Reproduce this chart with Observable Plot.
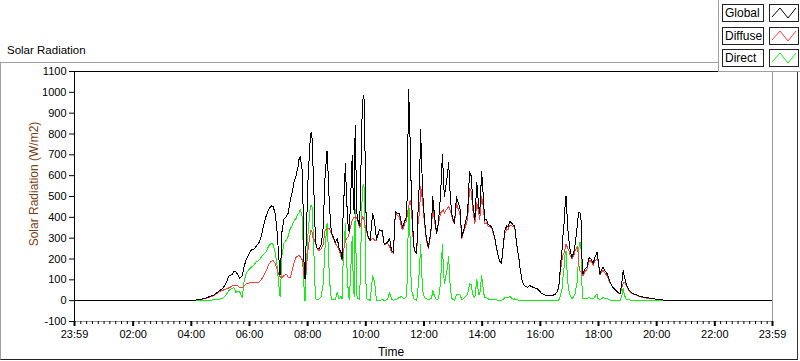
<!DOCTYPE html>
<html><head><meta charset="utf-8">
<script src="https://cdn.jsdelivr.net/npm/d3@7"></script>
<script src="https://cdn.jsdelivr.net/npm/@observablehq/plot@0.6"></script>
<style>
body{margin:0;background:#fff;font-family:"Liberation Sans",Arial,sans-serif;}
#wrap{position:relative;width:800px;height:361px;overflow:hidden;background:#fff;}
#wrap svg{position:absolute;left:0;top:0;}
.ov{position:absolute;white-space:nowrap;}
#outer{left:0;top:62px;width:796px;height:296px;border-top:1px solid #a0a0a0;border-left:1px solid #a0a0a0;border-right:1px solid #333;border-bottom:1px solid #222;}
#title{left:7px;top:44px;font-size:11.5px;color:#000;}
#ylab{left:34px;top:184px;font-size:12px;color:#7a4210;transform:translate(-50%,-50%) rotate(-90deg);}
#xlab{left:391px;top:345px;font-size:12px;color:#000;transform:translateX(-50%);}
#legend{left:718px;top:0;width:82px;height:71px;background:#fff;border-left:1px solid #a0a0a0;border-bottom:1px solid #a0a0a0;}
.lrow{position:absolute;left:3px;height:17px;}
.lname{position:absolute;left:0;top:0;border:1px solid #222;font-size:12px;line-height:16px;padding-left:2px;box-sizing:border-box;width:42px;height:18px;background:#fff;}
.lsamp{position:absolute;left:47px;top:0;width:30px;height:18px;border:1px solid #222;box-sizing:border-box;background:#fff;}
</style></head><body><div id="wrap"></div>
<script>
const times = ["00:00","04:01","04:16","04:26","04:36","04:47","04:57","05:05","05:11","05:18","05:24","05:28","05:32","05:36","05:40","05:45","05:49","05:53","05:59","06:03","06:09","06:13","06:20","06:24","06:28","06:34","06:40","06:45","06:49","06:53","06:57","07:01","07:03","07:05","07:07","07:11","07:16","07:20","07:24","07:28","07:32","07:36","07:40","07:42","07:45","07:49","07:51","07:53","07:55","07:57","08:01","08:05","08:07","08:09","08:11","08:14","08:16","08:20","08:24","08:28","08:32","08:36","08:40","08:42","08:45","08:49","08:53","08:57","09:01","09:05","09:09","09:11","09:13","09:18","09:20","09:24","09:26","09:28","09:32","09:34","09:36","09:38","09:40","09:42","09:47","09:49","09:51","09:53","09:55","09:57","09:59","10:01","10:05","10:09","10:14","10:18","10:22","10:28","10:34","10:38","10:45","10:49","10:53","10:57","11:01","11:05","11:09","11:14","11:16","11:20","11:24","11:26","11:28","11:30","11:32","11:34","11:38","11:40","11:45","11:47","11:49","11:51","11:53","11:57","12:01","12:05","12:09","12:14","12:16","12:18","12:22","12:26","12:30","12:34","12:38","12:40","12:42","12:47","12:51","12:53","12:57","13:01","13:03","13:07","13:09","13:14","13:18","13:22","13:26","13:30","13:34","13:38","13:40","13:45","13:49","13:53","13:55","13:59","14:03","14:05","14:09","14:11","14:16","14:20","14:24","14:26","14:30","14:32","14:36","14:40","14:45","14:47","14:51","14:53","14:57","15:01","15:05","15:07","15:11","15:16","15:18","15:22","15:26","15:30","15:34","15:38","15:42","15:47","15:53","15:59","16:03","16:09","16:16","16:24","16:30","16:34","16:38","16:40","16:42","16:45","16:47","16:49","16:51","16:53","16:55","16:57","16:59","17:01","17:05","17:09","17:11","17:16","17:18","17:20","17:22","17:24","17:26","17:28","17:32","17:36","17:40","17:42","17:47","17:49","17:53","17:57","17:59","18:03","18:07","18:09","18:14","18:18","18:22","18:26","18:30","18:36","18:40","18:45","18:49","18:51","18:53","18:57","19:01","19:05","19:11","19:18","19:22","19:30","19:38","19:47","19:57","20:07","20:18","20:24","23:59"];
const globalRad = [0,0,5,10,18,28,45,60,80,120,125,142,138,125,106,120,165,195,225,242,248,258,280,306,350,403,440,455,450,420,330,190,125,200,330,390,405,420,480,520,570,600,640,677,690,620,400,110,105,300,600,760,808,780,650,450,280,248,250,270,350,600,720,624,450,325,305,280,300,250,230,200,400,660,500,340,330,450,697,500,420,840,600,400,360,500,780,940,985,960,600,350,305,290,420,380,292,340,335,270,280,300,240,230,430,420,420,370,353,380,401,560,1015,909,700,500,300,242,227,387,500,580,822,532,387,300,256,330,387,500,400,324,380,500,701,600,500,580,663,550,420,380,372,500,480,450,305,340,380,420,620,595,480,387,566,450,420,620,480,387,390,372,360,353,320,305,250,227,190,179,300,339,360,353,380,372,360,363,276,200,160,100,75,68,63,72,68,62,58,45,34,28,24,25,29,40,63,120,179,250,320,372,450,500,420,339,290,250,208,230,256,353,400,426,420,387,200,130,150,160,200,208,190,179,210,232,200,130,150,160,140,130,100,80,63,50,39,34,100,145,120,82,60,45,34,28,24,18,14,12,8,5,2,0,0];
const diffuseRad = [0,0,5,9,15,25,42,50,55,62,70,73,75,72,63,62,70,80,85,87,87,87,90,100,115,140,175,190,192,180,150,125,115,110,111,120,128,110,110,145,180,208,215,218,210,195,150,110,100,150,250,320,339,330,300,290,280,245,242,250,270,339,345,348,348,320,300,276,260,242,210,193,230,290,295,310,324,350,387,395,400,403,400,390,353,360,380,403,400,380,353,340,300,288,300,290,290,339,330,268,276,260,232,227,426,410,403,350,340,370,380,420,450,470,480,450,280,240,225,350,400,420,550,480,370,290,250,320,370,450,380,320,370,420,430,440,420,440,450,440,410,375,370,470,450,420,300,330,360,390,540,520,450,370,470,420,390,500,440,370,375,360,355,345,315,300,245,225,190,179,290,325,345,340,360,360,355,355,270,198,160,100,75,68,63,72,68,62,58,45,34,28,24,25,29,40,60,110,150,200,220,230,250,270,260,250,240,220,200,215,235,260,230,160,140,140,130,120,140,150,185,195,180,170,190,200,190,125,140,145,130,120,95,78,60,48,38,33,70,85,90,75,55,42,32,26,22,16,13,11,8,5,2,0,0];
const directRad = [0,0,0,1,2,4,6,12,25,50,58,62,40,45,42,15,95,130,150,160,170,184,195,208,220,232,265,276,270,230,170,63,20,100,220,275,290,310,345,360,385,395,415,420,440,400,250,5,0,150,330,440,460,450,350,160,10,5,8,20,80,260,370,280,100,5,5,5,40,8,20,7,170,370,210,30,6,100,310,100,20,440,200,10,7,140,400,530,560,540,250,10,5,2,120,90,2,1,5,2,4,40,8,3,4,10,15,20,13,10,20,140,450,440,220,50,20,5,2,40,100,160,270,50,15,10,5,10,15,50,20,5,10,80,270,160,80,140,210,100,10,5,3,30,30,30,5,10,20,30,80,75,30,15,100,30,30,120,40,15,15,10,5,8,5,5,3,2,0,0,10,15,15,13,20,12,5,8,6,2,0,0,0,0,0,0,0,0,0,0,0,0,0,0,0,0,3,10,30,60,120,160,220,240,150,80,50,30,10,20,25,90,170,266,280,247,70,10,10,10,15,13,10,9,20,32,10,5,10,15,10,10,5,2,3,2,1,1,30,60,30,7,5,3,2,2,2,2,1,1,0,0,0,0,0];
const xTickLabels = ["23:59","02:00","04:00","06:00","08:00","10:00","12:00","14:00","16:00","18:00","20:00","22:00","23:59"];
const yTickValues = [-100,0,100,200,300,400,500,600,700,800,900,1000,1100];
const seriesNames = ["Global","Diffuse","Direct"];
const seriesColors = ["#000000","#ff3c3c","#14ee14"];

const day = (s, off = 0) => new Date(Date.UTC(2000, 0, 1 + off, +s.slice(0, 2), +s.slice(3, 5)));
const rows = times.map((t, i) => ({t: day(t), g: globalRad[i], d: diffuseRad[i], r: directRad[i]}));
const x0 = day("23:59", -1), x1 = day("23:59");
const majorDates = xTickLabels.map((s, i) => day(s, i === 0 ? -1 : 0));
const labelMap = new Map(majorDates.map((d, i) => [+d, xTickLabels[i]]));
const minorDates = d3.utcMinute.every(12).range(day("00:00"), x1).filter(d => d.getUTCMinutes() !== 0 || d.getUTCHours() % 2 === 1);

const chart = Plot.plot({
  width: 800, height: 361,
  marginLeft: 74, marginRight: 28, marginTop: 71, marginBottom: 40,
  x: {type: "utc", domain: [x0, x1]},
  y: {domain: [-100, 1100]},
  style: {fontFamily: "'Liberation Sans', Arial, sans-serif", fontSize: "11px", color: "#000", background: "transparent", overflow: "visible"},
  marks: [
    Plot.lineY(rows, {x: "t", y: "r", stroke: seriesColors[2], strokeWidth: 1, shapeRendering: "crispEdges"}),
    Plot.lineY(rows, {x: "t", y: "d", stroke: seriesColors[1], strokeWidth: 1, shapeRendering: "crispEdges"}),
    Plot.lineY(rows, {x: "t", y: "g", stroke: seriesColors[0], strokeWidth: 1, shapeRendering: "crispEdges"}),
    Plot.ruleY([1100], {stroke: "#000", shapeRendering: "crispEdges"}),
    Plot.ruleX([x0], {stroke: "#000", shapeRendering: "crispEdges"}),
    Plot.ruleX([x1], {stroke: "#999", shapeRendering: "crispEdges"}),
    Plot.ruleY([-100], {stroke: "#999", shapeRendering: "crispEdges"}),
    Plot.axisY(yTickValues, {tickSize: 5, tickPadding: 3, label: null, tickFormat: d => String(d), stroke: "#000", fill: "#000"}),
    Plot.axisX(minorDates, {tickSize: 3, tickFormat: () => "", label: null, stroke: "#000"}),
    Plot.axisX(majorDates, {tickSize: 5, strokeWidth: 2, tickPadding: 4, tickFormat: d => labelMap.get(+d), label: null, stroke: "#000", fill: "#000"})
  ]
});
const wrap = document.getElementById("wrap");
wrap.appendChild(chart);
const add = (id, text) => { const e = document.createElement("div"); e.className = "ov"; e.id = id; if (text) e.textContent = text; wrap.appendChild(e); return e; };
add("outer");
add("title", "Solar Radiation");
add("ylab", "Solar Radiation (W/m2)");
add("xlab", "Time");
const leg = add("legend");
seriesNames.forEach((n, i) => {
  const row = document.createElement("div");
  row.className = "lrow"; row.style.top = (4 + i * 22.5) + "px";
  row.innerHTML = `<div class="lname">${n}</div><div class="lsamp"><svg width="28" height="16"><polyline points="2,12 10,3 18,13 26,3" fill="none" stroke="${seriesColors[i]}" stroke-width="1"/></svg></div>`;
  leg.appendChild(row);
});
</script></body></html>
